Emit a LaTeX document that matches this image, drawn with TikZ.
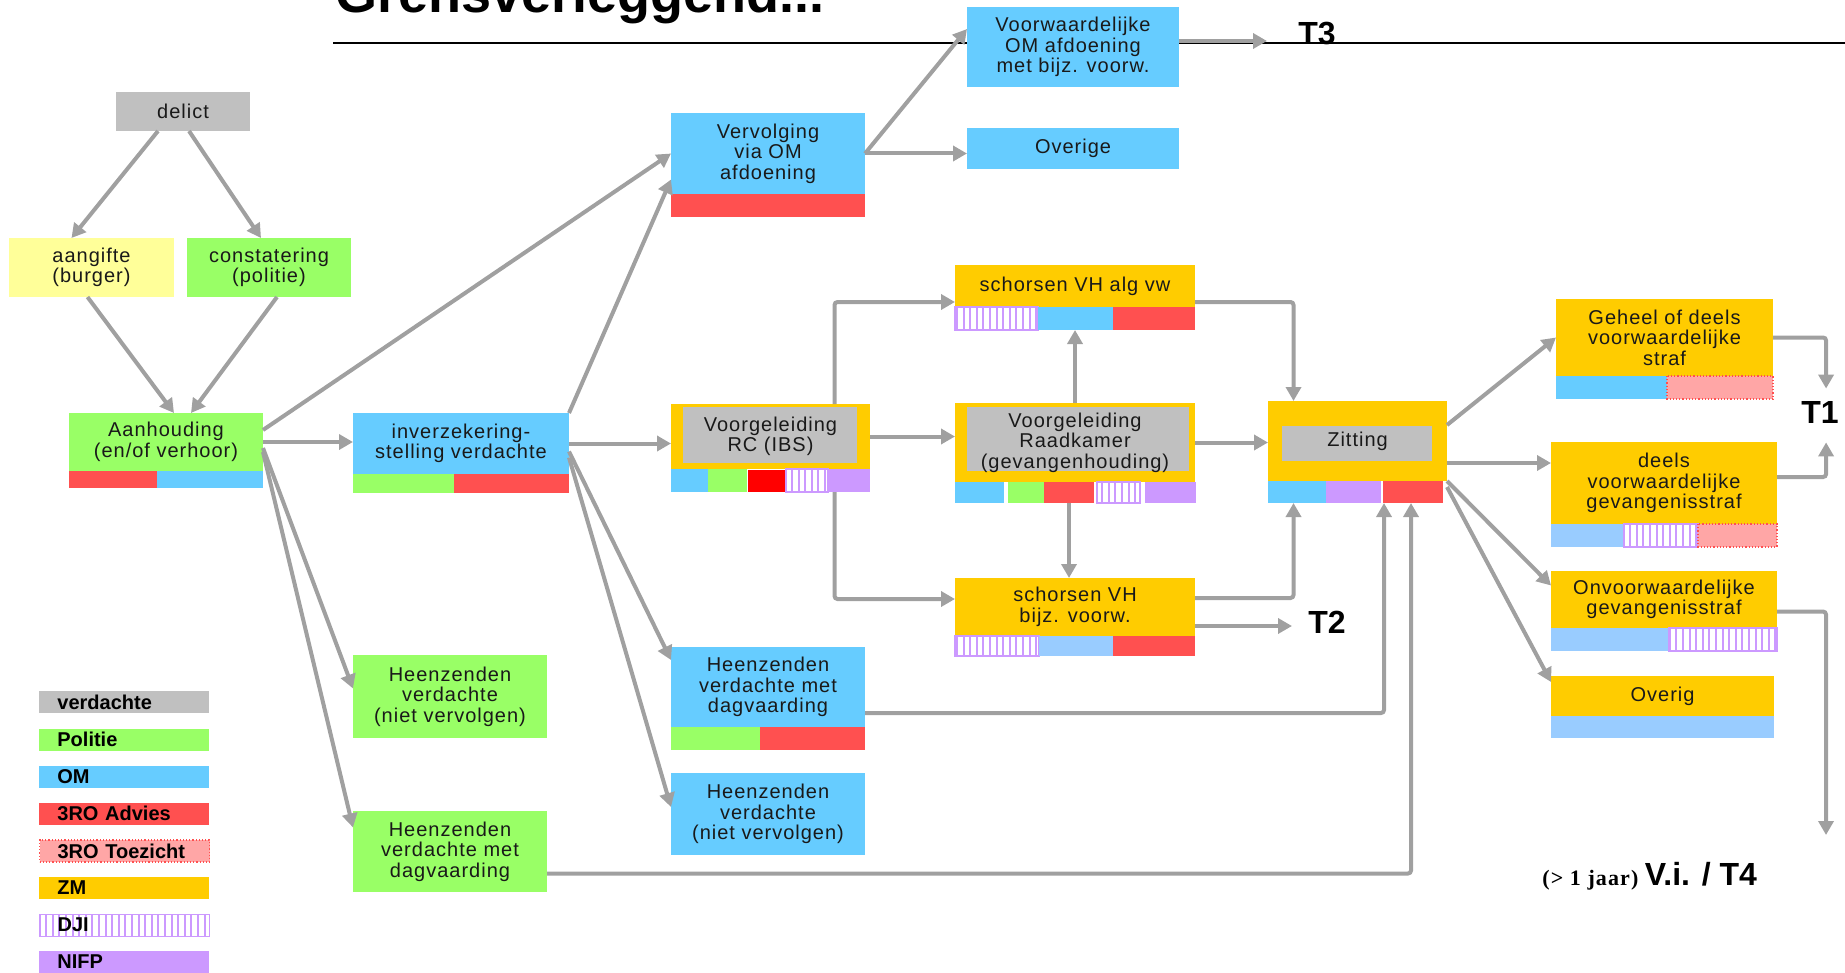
\documentclass[tikz,border=0pt]{standalone}
\usepackage{fontspec}
\setmainfont{Liberation Sans}[LetterSpace=5]
\newfontfamily\kopfont{Liberation Sans}
\newfontfamily\serieffont{Liberation Serif}[LetterSpace=5]
\usetikzlibrary{arrows.meta,patterns.meta}

\definecolor{grijs}{HTML}{C0C0C0}
\definecolor{lichtgeel}{HTML}{FFFF99}
\definecolor{groen}{HTML}{99FF66}
\definecolor{blauw}{HTML}{66CCFF}
\definecolor{lichtblauw}{HTML}{99CCFF}
\definecolor{rood}{HTML}{FF5050}
\definecolor{felrood}{HTML}{FF0000}
\definecolor{roze}{HTML}{FFA6A6}
\definecolor{geel}{HTML}{FFCC00}
\definecolor{paars}{HTML}{CC99FF}
\definecolor{pijlgrijs}{HTML}{A0A0A0}

\tikzset{
  blok/.style={anchor=north west, inner sep=1pt, outer sep=0pt, align=center,
    text=black!90, font=\fontsize{10}{10.3}\selectfont},
  maat/.style 2 args={minimum width=#1*0.5pt, minimum height=#2*0.5pt},
  vd/.style={fill=grijs},
  pol/.style={fill=groen},
  om/.style={fill=blauw},
  lb/.style={fill=lichtblauw},
  adv/.style={fill=rood},
  fr/.style={fill=felrood, draw=white, line width=0.4pt},
  toez/.style={fill=roze, draw=rood, densely dotted, line width=0.6pt},
  zm/.style={fill=geel},
  dji/.style={fill=white, draw=paars, line width=0.6pt,
    postaction={pattern={Lines[angle=90,distance=3.3pt,line width=1pt]}, pattern color=paars}},
  nifp/.style={fill=paars},
  binnen/.style n args={4}{path picture={\fill[grijs]
    ([shift={(#1,-#2)}]path picture bounding box.north west) rectangle
    ([shift={(-#3,#4)}]path picture bounding box.south east);}},
  pijl/.style={draw=pijlgrijs, line width=2pt, rounded corners=1.5pt,
    -{Triangle[length=7pt,width=7.5pt]}},
  tlabel/.style={anchor=base west, inner sep=0pt,
    font=\kopfont\bfseries\fontsize{16}{16}\selectfont},
  legenda/.style={anchor=north west, inner xsep=9pt, inner ysep=0pt, text width=67pt,
    minimum height=11pt, align=left, font=\kopfont\bfseries\fontsize{10}{10}\selectfont}
}

\begin{document}
\begin{tikzpicture}[x=0.5pt, y=-0.5pt]
  \useasboundingbox (0,0) rectangle (1845,973);
  \clip (0,0) rectangle (1845,973);
  % titel
  \node[anchor=base west, inner sep=0pt, font=\kopfont\bfseries\fontsize{27}{27}\selectfont]
    (titel) at (335,13) {Grensverleggend...};
  \draw[line width=1.3pt] (333,43) -- (1845,43);

  % blokken
  \node[blok, vd, maat={134}{39}] (delict) at (116,92) {delict};
  \node[blok, fill=lichtgeel, maat={165}{59}] (aangifte) at (9,238) {aangifte\\(burger)};
  \node[blok, pol, maat={164}{59}] (constat) at (187,238) {constatering\\(politie)};
  \node[blok, pol, maat={194}{58}] (aanh) at (69,413) {Aanhouding\\(en/of verhoor)};
  \node[blok, om, maat={216}{61}] (inverz) at (353,413) {inverzekering-\\stelling verdachte};
  \node[blok, om, maat={194}{81}] (verv) at (671,113) {Vervolging\\via OM\\afdoening};
  \node[blok, om, maat={212}{80}] (voorw) at (967,7) {Voorwaardelijke\\OM afdoening\\met bijz. voorw.};
  \node[blok, om, maat={212}{41}] (overige) at (967,128) {Overige};
  \node[blok, zm, maat={199}{65}, binnen={6pt}{1.5pt}{6.5pt}{3pt}] (rc) at (671,404) {Voorgeleiding\\RC (IBS)};
  \node[blok, zm, maat={240}{42}] (alg) at (955,265) {schorsen VH alg vw};
  \node[blok, zm, maat={240}{79}, binnen={6pt}{2pt}{3pt}{5.5pt}] (raad) at (955,403) {Voorgeleiding\\Raadkamer\\(gevangenhouding)};
  \node[blok, zm, maat={240}{58}] (bijz) at (955,578) {schorsen VH\\bijz. voorw.};
  \node[blok, zm, maat={179}{80}, binnen={7pt}{12.5pt}{7.5pt}{10pt}] (zitting) at (1268,401) {Zitting};
  \node[blok, zm, maat={217}{77}] (geheel) at (1556,299) {Geheel of deels\\voorwaardelijke\\straf};
  \node[blok, zm, maat={226}{82}] (deels) at (1551,442) {deels\\voorwaardelijke\\gevangenisstraf};
  \node[blok, zm, maat={226}{57}] (onv) at (1551,571) {Onvoorwaardelijke\\gevangenisstraf};
  \node[blok, zm, maat={223}{40}] (overig) at (1551,676) {Overig};
  \node[blok, pol, maat={194}{83}] (hpnv) at (353,655) {Heenzenden\\verdachte\\(niet vervolgen)};
  \node[blok, pol, maat={194}{81}] (hpdv) at (353,811) {Heenzenden\\verdachte met\\dagvaarding};
  \node[blok, om, maat={194}{80}] (hodv) at (671,647) {Heenzenden\\verdachte met\\dagvaarding};
  \node[blok, om, maat={194}{82}] (honv) at (671,773) {Heenzenden\\verdachte\\(niet vervolgen)};

  % balken
  \foreach \xa/\xb/\ya/\yb/\s in {
    69/157/471/488/adv, 157/263/471/488/om,
    353/454/474/493/pol, 454/569/474/493/adv,
    671/865/194/217/adv,
    671/708/469/492/om, 708/747/469/492/pol, 747/786/469/492/fr, 786/828/469/492/dji, 828/870/469/492/nifp,
    955/1038/307/330/dji, 1038/1113/307/330/om, 1113/1195/307/330/adv,
    955/1004/482/503/om, 1008/1044/482/503/pol, 1044/1094/482/503/adv, 1097/1140/482/503/dji, 1145/1196/482/503/nifp,
    955/1039/636/656/dji, 1039/1113/636/656/lb, 1113/1195/636/656/adv,
    1268/1326/481/503/om, 1326/1381/481/503/nifp, 1383/1443/481/503/adv,
    1556/1667/376/399/om, 1667/1773/376/399/toez,
    1551/1624/524/547/lb, 1624/1698/524/547/dji, 1698/1777/524/547/toez,
    1551/1669/628/651/lb, 1669/1777/628/651/dji,
    1551/1774/716/738/lb,
    671/760/727/750/pol, 760/865/727/750/adv}
    \path[\s] (\xa,\ya) rectangle (\xb,\yb);

  % legenda
  \foreach \naam/\s [count=\k from 0] in {verdachte/vd, Politie/pol, OM/om, 3RO Advies/adv,
      3RO Toezicht/toez, ZM/zm, DJI/dji, NIFP/nifp}
    \node[legenda, \s] (leg\k) at (39,691+37.1*\k) {\naam};

  % labels
  \node[tlabel] (t3) at (1298,45) {T3};
  \node[tlabel] (t2) at (1308,633) {T2};
  \node[tlabel] (t1) at (1801,423) {T1};
  \node[anchor=base west, inner sep=0pt] (t4) at (1542,885)
    {{\serieffont\bfseries\fontsize{11}{11}\selectfont (> 1 jaar)}
     {\kopfont\bfseries\fontsize{16}{16}\selectfont V.i. / T4}};
  \coordinate (t4pijl) at (1826,835);

  % pijlen
  \draw[pijl] ([xshift=-12.5pt]delict.south) -- ([xshift=-10pt]aangifte.north);
  \draw[pijl] ([xshift=3pt]delict.south) -- ([xshift=-4pt]constat.north);
  \draw[pijl] ([xshift=-2pt]aangifte.south) -- ([xshift=4pt]aanh.north);
  \draw[pijl] ([xshift=4pt]constat.south) -- ([xshift=12.5pt]aanh.north);
  \draw[pijl] (aanh) -- (aanh -| inverz.west);
  \draw[pijl] ([yshift=6pt]aanh.east) -- (verv.west);
  \draw[pijl] ([yshift=-3pt]aanh.east) -- ([yshift=4pt]hpnv.west);
  \draw[pijl] ([yshift=-5pt]aanh.east) -- ([yshift=12pt]hpdv.west);
  \draw[pijl] (inverz.north east) -- ([yshift=-13pt]verv.west);
  \draw[pijl] (inverz) -- (inverz -| rc.west);
  \draw[pijl] ([yshift=-4pt]inverz.east) -- ([yshift=13.5pt]hodv.west);
  \draw[pijl] ([yshift=-7pt]inverz.east) -- ([yshift=3.5pt]honv.west);
  \draw[pijl] (verv.east) -- ([yshift=9pt]voorw.west);
  \draw[pijl] (verv) -- (verv -| overige.west);
  \draw[pijl, shorten >=15.5pt] ([yshift=3pt]voorw.east) -- ([yshift=3pt]voorw.east -| t3.west);
  \draw[pijl] (rc) -- (rc -| raad.west);
  \draw[pijl] ([xshift=32pt]rc.north) |- ([yshift=-8pt]alg.west);
  \draw[pijl] ([xshift=32pt,yshift=-11.5pt]rc.south) |- ([yshift=4pt]bijz.west);
  \draw[pijl] (raad.north) -- ([yshift=-11.5pt]alg.south);
  \draw[pijl] ([xshift=-3pt,yshift=-10.5pt]raad.south) -- ([xshift=-3pt]bijz.north);
  \draw[pijl] (raad) -- (raad -| zitting.west);
  \draw[pijl] ([yshift=-8pt]alg.east) -| ([xshift=-32pt]zitting.north);
  \draw[pijl] ([yshift=4.5pt]bijz.east) -| ([xshift=-32pt,yshift=-11pt]zitting.south);
  \draw[pijl, shorten >=8pt] ([yshift=-9.5pt]bijz.east) -- ([yshift=-9.5pt]bijz.east -| t2.west);
  \draw[pijl] ([yshift=-13pt]hodv.east) -| ([xshift=13.25pt,yshift=-11pt]zitting.south);
  \draw[pijl] ([yshift=-11pt]hpdv.east) -| ([xshift=26.75pt,yshift=-11pt]zitting.south);
  \draw[pijl] ([yshift=8pt]zitting.east) -- (geheel.west);
  \draw[pijl] ([yshift=-11pt]zitting.east) -- ([yshift=-11pt]zitting.east -| deels.west);
  \draw[pijl] (zitting.south east) -- ([yshift=7pt]onv.west);
  \draw[pijl] ([yshift=-3pt]zitting.south east) -- ([yshift=7pt]overig.west);
  \draw[pijl, shorten >=6pt] (geheel.east) -| ([xshift=3pt]t1.north);
  \draw[pijl, shorten >=9.5pt] ([yshift=3pt]deels.east) -| ([xshift=3pt]t1.south);
  \draw[pijl] ([yshift=-6pt]onv.east) -| (t4pijl);
\end{tikzpicture}
\end{document}
